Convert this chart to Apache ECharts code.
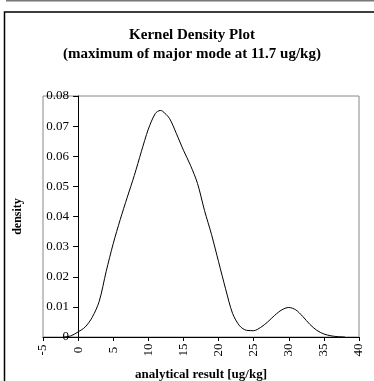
<!DOCTYPE html>
<html>
<head>
<meta charset="utf-8">
<script src="https://cdn.jsdelivr.net/npm/echarts@6/dist/echarts.min.js"></script>
<style>
  html, body { margin: 0; padding: 0; background: #fff; }
  #chart { width: 374px; height: 381px; }
</style>
</head>
<body>
<div id="chart"></div>
<script>
// kernel density estimate
var xs = [-2, -1, 0, 1, 2, 3, 4, 5, 6, 7, 8, 9, 10, 11, 11.7, 12, 13, 14, 15, 16, 17, 18, 19, 20,
          21, 22, 23, 24, 25, 26, 27, 28, 29, 30, 31, 32, 33, 34, 35, 36, 37, 38];
var ys = [0.0000, 0.0004, 0.0017, 0.0033, 0.0065, 0.0118, 0.0218, 0.0310, 0.0390, 0.0464, 0.0536,
          0.0615, 0.0690, 0.0742, 0.0752, 0.0750, 0.0726, 0.0675, 0.0620, 0.0570, 0.0510, 0.0420,
          0.0340, 0.0250, 0.0160, 0.0078, 0.0037, 0.0022, 0.0021, 0.0032, 0.0050, 0.0072, 0.0090,
          0.0098, 0.0090, 0.0068, 0.0042, 0.0022, 0.0010, 0.0004, 0.0001, 0.0000];
var xTicks = { min: -5, max: 40, step: 5 };
var yTicks = { min: 0, max: 0.08, step: 0.01 };
var titleLines = ['Kernel Density Plot', '(maximum of major mode at 11.7 ug/kg)'];

var serif = '"Liberation Serif", "DejaVu Serif", serif';
var points = [];
for (var i = 0; i < xs.length; i++) {
    points.push([xs[i], ys[i]]);
}

var gridLeft = 43, gridRight = 15, chartW = 374;
// y axis sits at x = 0, so shift it in from the grid edge
var zeroShift = (0 - xTicks.min) / (xTicks.max - xTicks.min) * (chartW - gridLeft - gridRight);

var myChart = echarts.init(document.getElementById('chart'));
var option = {
    animation: false,
    graphic: [
        { type: 'rect', shape: { x: 6, y: 0, width: 370, height: 1.5 }, style: { fill: '#777' } },
        { type: 'rect', shape: { x: 4.5, y: 12, width: 400, height: 400 },
          style: { fill: 'none', stroke: '#000', lineWidth: 1.5 } },
        { type: 'text', x: 192, y: 35,
          style: { text: titleLines[0], font: 'bold 15px ' + serif, align: 'center', verticalAlign: 'middle', fill: '#000' } },
        { type: 'text', x: 192, y: 54,
          style: { text: titleLines[1], font: 'bold 15px ' + serif, align: 'center', verticalAlign: 'middle', fill: '#000' } }
    ],
    grid: {
        left: gridLeft, top: 96, right: gridRight, bottom: 44,
        outerBoundsMode: 'none',
        containLabel: false,
        show: true, borderColor: '#888', borderWidth: 1, backgroundColor: '#fff'
    },
    xAxis: {
        type: 'value',
        min: xTicks.min, max: xTicks.max, interval: xTicks.step,
        name: 'analytical result [ug/kg]',
        nameLocation: 'middle', nameGap: 31,
        nameTextStyle: { fontFamily: serif, fontWeight: 'bold', fontSize: 13, color: '#000' },
        axisLine: { lineStyle: { color: '#000', width: 1 } },
        axisTick: { length: 4, lineStyle: { color: '#000' } },
        axisLabel: {
            rotate: 90, align: 'center', verticalAlign: 'middle', margin: 13,
            fontFamily: serif, fontSize: 13, color: '#000'
        },
        splitLine: { show: false }
    },
    yAxis: {
        type: 'value',
        min: yTicks.min, max: yTicks.max, interval: yTicks.step,
        offset: -zeroShift,
        name: 'density',
        nameLocation: 'middle', nameGap: 54, nameRotate: 90,
        nameTextStyle: { fontFamily: serif, fontWeight: 'bold', fontSize: 12, color: '#000' },
        axisLine: { onZero: false, lineStyle: { color: '#000', width: 1 } },
        axisTick: { length: 5, lineStyle: { color: '#000' } },
        axisLabel: {
            margin: 9, fontFamily: serif, fontSize: 13, color: '#000',
            formatter: function (v) { return v === 0 ? '0' : v.toFixed(2); }
        },
        splitLine: { show: false }
    },
    series: [{
        type: 'line',
        data: points,
        smooth: 0.3,
        showSymbol: false,
        lineStyle: { color: '#000', width: 1 }
    }]
};
myChart.setOption(option);
</script>
</body>
</html>
